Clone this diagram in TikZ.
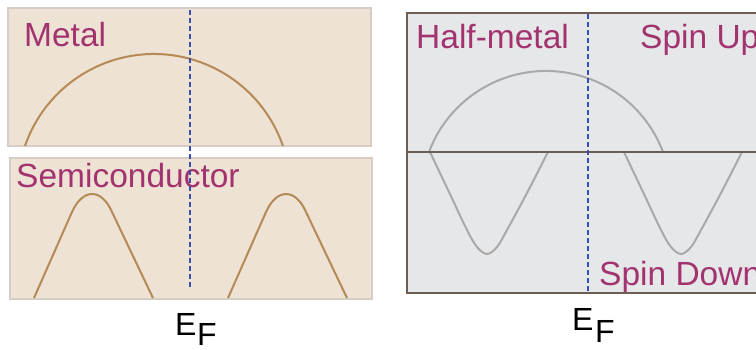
\documentclass[tikz,border=0pt]{standalone}
\usepackage{fontspec}
\setmainfont{Liberation Sans}
\definecolor{tanfill}{HTML}{EEE2D4}
\definecolor{tanedge}{HTML}{D6CEC6}
\definecolor{browncurve}{HTML}{B58A55}
\definecolor{grayfill}{HTML}{E6E7E9}
\definecolor{darkedge}{HTML}{6C5D55}
\definecolor{graycurve}{HTML}{A9A9A9}
\definecolor{magentatext}{HTML}{A3336F}
\definecolor{bluedash}{HTML}{3B4DAF}
\tikzset{
  tanbox/.style={fill=tanfill, draw=tanedge, line width=1.6pt},
  graybox/.style={fill=grayfill},
  darkline/.style={draw=darkedge, line width=2.4pt},
  bandbrown/.style={draw=browncurve, line width=2pt},
  bandgray/.style={draw=graycurve, line width=2pt},
  lbl/.style={text=magentatext, inner sep=0pt, anchor=base west, font=\fontsize{33.5}{37}\selectfont},
  eflbl/.style={text=black, inner sep=0pt, anchor=base west, font=\fontsize{32}{36}\selectfont},
  fermi/.style={draw=bluedash, line width=1.3pt, dash pattern=on 5pt off 3pt},
}
\begin{document}
\begin{tikzpicture}[x=1pt,y=-1pt]
\useasboundingbox (0,0) rectangle (756,349);
\clip (0,0) rectangle (756,349);
\fill[white] (0,0) rectangle (756,349);

% Metal panel
\path[tanbox] (8,8) rectangle (371,146);
\begin{scope}
  \clip (9,9) rectangle (370,145);
  \draw[bandbrown] (25,146) arc[start angle=199, end angle=341, radius=136.4];
\end{scope}
\node[lbl] (metal) at (24,46) {Metal};

% Semiconductor panel
\path[tanbox] (10,158) rectangle (372,299);
\begin{scope}
  \clip (11,159) rectangle (371,298);
  \draw[bandbrown] (34,298) -- (72,212) .. controls (82.8,188) and (101.5,188) .. (112,212) -- (153,298);
  \draw[bandbrown] (228,298) -- (266,212) .. controls (276.8,188) and (295.5,188) .. (306,212) -- (347,298);
\end{scope}
\node[lbl] (semi) at (16,187) {Semiconductor};

% Half-metal panel
\fill[graybox] (407,13) rectangle (780,293);
\begin{scope}
  \clip (408,14) rectangle (780,292);
  \draw[bandgray] (429,152) arc[start angle=200.6, end angle=339.4, radius=125];
  \draw[bandgray] plot[smooth, tension=0.55] coordinates {(430,152) (449,192) (467,230) (477,247) (487,254) (497,247) (507,230) (527,193) (548,152)};
  \draw[bandgray] plot[smooth, tension=0.55] coordinates {(624,152) (643,192) (661,230) (671,247) (681,254) (691,247) (701,230) (721,193) (742,152)};
\end{scope}
\draw[darkline] (407,13) rectangle (780,293);
\draw[darkline] (407,152) -- (780,152);
\node[lbl] (half) at (416,48) {Half-metal};
\node[lbl] (spinup) at (640,48) {Spin Up};
\node[lbl] (spindown) at (599,285) {Spin Down};

% Fermi levels
\coordinate (fa) at (190,10);
\coordinate (fb) at (190,288);
\coordinate (fc) at (588,14);
\coordinate (fd) at (588,292);
\draw[fermi] (fa) -- (fb);
\draw[fermi] (fc) -- (fd);

% E_F labels
\node[eflbl] (efl) at (175,335) {E};
\node[eflbl] (efls) at (197,345.5) {F};
\node[eflbl] (efr) at (572,330) {E};
\node[eflbl] (efrs) at (595,342) {F};
\end{tikzpicture}
\end{document}
